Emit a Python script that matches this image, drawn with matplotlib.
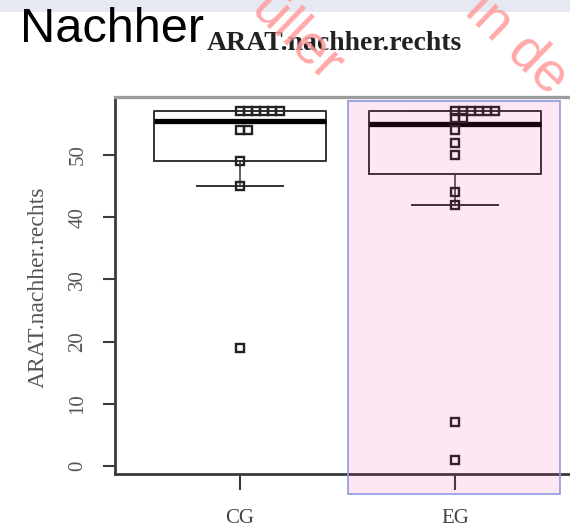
import numpy as np
import matplotlib
matplotlib.use("Agg")
from matplotlib import pyplot as plt
from matplotlib.patches import Rectangle

# groups and box statistics
groups = ["CG", "EG"]
q1 = [49, 47]
med = [55.5, 55]
q3 = [57, 57]
whislo = [45, 42]
whishi = [57, 57]

# individual points (stripchart, stacked)
cg_points = [57, 57, 57, 57, 57, 57, 54, 54, 49, 45, 19]
eg_points = [57, 57, 57, 57, 57, 57, 56, 56, 54, 52, 50, 44, 42, 7, 1]

yticks = [0, 10, 20, 30, 40, 50]

W, H = 570, 528
fig = plt.figure(figsize=(W / 100, H / 100), dpi=100)

# faint band at top of the slide
fig.patches.append(Rectangle((0, 516 / H), 1, 12 / H, transform=fig.transFigure,
                             facecolor="#e6e9f2", edgecolor="none", zorder=0))

ax = fig.add_axes([115 / W, 54 / H, 485 / W, 377 / H])
ax.set_xlim(0.4186, 2.6744)
ax.set_ylim(-1.29, 59.32)

stats = []
for i in range(len(groups)):
    stats.append(dict(q1=q1[i], med=med[i], q3=q3[i], whislo=whislo[i], whishi=whishi[i], fliers=[]))

ax.bxp(stats, positions=[1, 2], widths=0.8, capwidths=0.4, showfliers=False,
       boxprops=dict(color="#333333", lw=1.4),
       medianprops=dict(color="black", lw=3.8),
       whiskerprops=dict(color="#333333", lw=1.1),
       capprops=dict(color="#333333", lw=1.4))

# stacked points like R stripchart(method="stack")
step = 0.037
for pos, pts in zip([1, 2], [cg_points, eg_points]):
    xs, seen = [], {}
    for v in pts:
        k = seen.get(v, 0)
        xs.append(pos + k * step)
        seen[v] = k + 1
    ax.plot(xs, pts, ls="none", marker="s", ms=5.5, mfc="none", mec="#222222", mew=1.7, zorder=5)

ax.spines["right"].set_visible(False)
ax.spines["left"].set_color("#3a3a3a")
ax.spines["left"].set_linewidth(2.0)
ax.spines["bottom"].set_color("#3a3a3a")
ax.spines["bottom"].set_linewidth(2.0)
ax.spines["top"].set_color("#9c9c9c")
ax.spines["top"].set_linewidth(2.4)

ax.set_yticks(yticks)
ax.set_yticklabels([str(t) for t in yticks], rotation=90, va="center",
                   family="Liberation Serif", fontsize=15, color="#555555")
ax.tick_params(axis="y", length=9, width=1.5, color="#3a3a3a", pad=11)
ax.set_xticks([1, 2])
ax.set_xticklabels(groups, family="Liberation Serif", fontsize=15, color="#444444")
ax.tick_params(axis="x", length=11.5, width=1.5, color="#3a3a3a", pad=14)

fig.text(38 / W, 1 - 287 / H, "ARAT.nachher.rechts", rotation=90, ha="center", va="center",
         family="Liberation Serif", fontsize=17, color="#555555")

fig.text(20 / W, 1 - 42 / H, "Nachher", family="Liberation Sans", fontsize=35,
         ha="left", va="baseline")
fig.text(207 / W, 1 - 50 / H, "ARAT.nachher.rechts", family="Liberation Serif",
         fontweight="bold", fontsize=20, ha="left", va="baseline", color="#222222")

# pink highlight box over EG
fig.patches.append(Rectangle((348 / W, 34 / H), 212 / W, 393 / H, transform=fig.transFigure,
                             facecolor=(0.92, 0.1, 0.57, 0.1), edgecolor="#8e9ae0",
                             lw=1.2, zorder=10))

# watermark fragments (cut off at the top edge, as in the slide)
wm = dict(family="Liberation Sans", fontsize=40, color="#ff9a9a", alpha=0.85,
          rotation=-44, rotation_mode="anchor", ha="center", va="center", zorder=20)
fig.text(296 / W, 1 - 38 / H, "üller", **wm)
fig.text(516 / W, 1 - 44 / H, "in de", **wm)

fig.savefig("out.png", dpi=100)
